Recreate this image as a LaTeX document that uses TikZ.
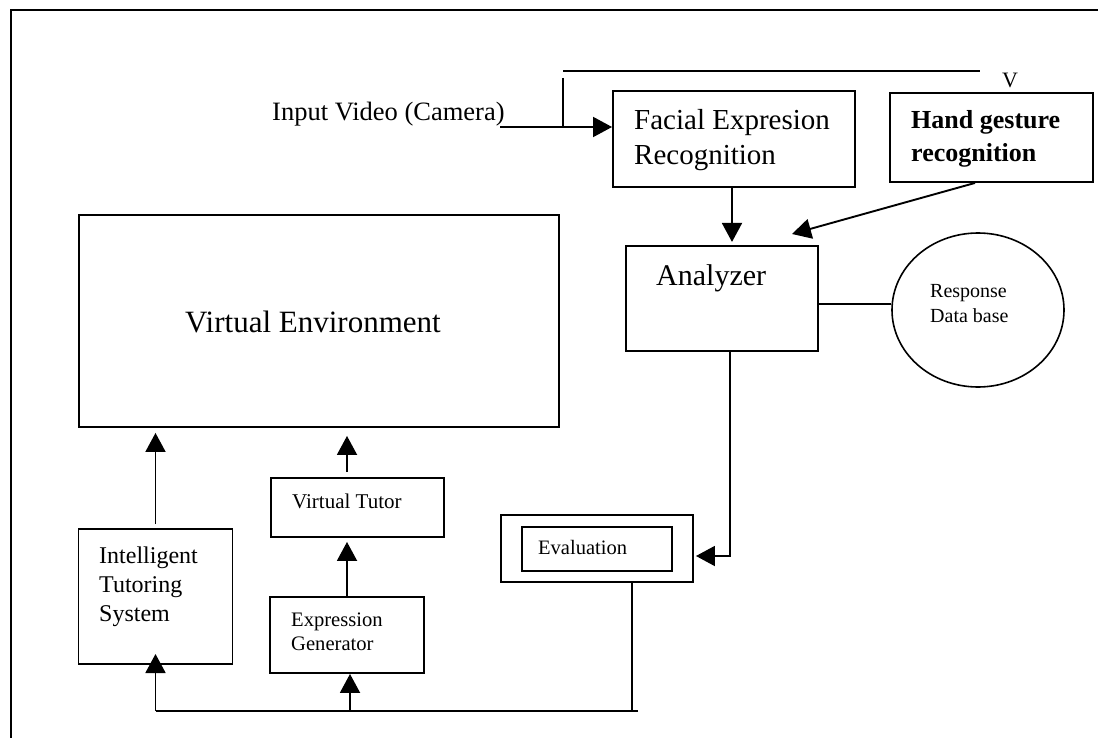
\documentclass[tikz,border=0pt]{standalone}
\usepackage{fontspec}
\setmainfont{Liberation Serif}
\usetikzlibrary{arrows.meta,calc,shapes.geometric}
\tikzset{
  box/.style={draw, line width=1.9pt, rectangle, inner sep=0pt},
  thinbox/.style={draw, line width=1.2pt, rectangle, inner sep=0pt},
  conn/.style={line width=1.9pt},
  arr/.style={line width=1.9pt, -{Triangle[length=19pt,width=20pt]}},
  txt/.style={inner sep=0pt, anchor=base west},
}
\newcommand{\fs}[1]{\fontsize{#1}{#1}\selectfont}
\begin{document}
\begin{tikzpicture}[x=1pt,y=-1pt]
\useasboundingbox (0,0) rectangle (1098,738);
% outer frame
\draw[line width=2pt] (10.5,740) -- (10.5,10.5) -- (1100,10.5);

% boxes
\node[box, minimum width=242, minimum height=96] (fac) at (734,139) {};
\node[box, minimum width=203, minimum height=89] (hand) at (991.5,137.5) {};
\node[box, minimum width=192, minimum height=105] (ana) at (722,298.5) {};
\node[draw, ellipse, line width=1.6pt, minimum width=172, minimum height=154, inner sep=0pt] (resp) at (978,310) {};
\node[box, minimum width=480, minimum height=212] (ve) at (318.8,321) {};
\node[box, minimum width=173, minimum height=59] (vt) at (357.5,507.5) {};
\node[box, minimum width=154, minimum height=135] (its) at (155.5,596.5) {};
\node[box, minimum width=154, minimum height=76] (eg) at (347,635) {};
\node[box, minimum width=192, minimum height=67] (evo) at (597,548.5) {};
\node[thinbox, minimum width=150, minimum height=44] (evi) at (597,549) {};

% texts
\node[txt] (tin) at (272,121) {\fs{26.5}Input Video (Camera)};
\node[inner sep=0pt, anchor=base] (tv) at (1010,88) {\fs{22}V};
\node[txt] (tfac1) at (634,130) {\fs{29}Facial Expresion};
\node[txt] (tfac2) at (634,165) {\fs{29}Recognition};
\node[txt] (thand1) at (911,129) {\fs{26}\bfseries Hand gesture};
\node[txt] (thand2) at (911,162) {\fs{26}\bfseries recognition};
\node[txt] (tana) at (656,286) {\fs{30}Analyzer};
\node[txt] (tresp1) at (930,298) {\fs{20}Response};
\node[txt] (tresp2) at (930,322) {\fs{20}Data base};
\node[inner sep=0pt, anchor=base] (tve) at (313,332) {\fs{31}Virtual Environment};
\node[txt] (tvt) at (292,508) {\fs{21}Virtual Tutor};
\node[txt] (tits1) at (99,563) {\fs{24}Intelligent};
\node[txt] (tits2) at (99,592) {\fs{24}Tutoring};
\node[txt] (tits3) at (99,621) {\fs{24}System};
\node[txt] (teg1) at (291,626) {\fs{20.6}Expression};
\node[txt] (teg2) at (291,650) {\fs{20.6}Generator};
\node[txt] (tev) at (538,554) {\fs{20.5}Evaluation};

% input and feedback lines
\coordinate (cin) at (500,127);
\draw[arr] (cin) -- (cin -| fac.west);
\coordinate (fbl) at (563,70.7);
\coordinate (fbr) at (980,70.7);
\draw[conn] (fbl) -- (fbr);
\coordinate (fbt) at (563,78);
\draw[conn] (fbt) -- (fbt |- cin);

% to analyzer
\draw[arr] ($(fac.south)+(-2,0)$) -- ++(0,54);
\draw[arr] ($(hand.south)+(-16.5,0)$) -- (792,234);

% analyzer - response
\coordinate (a1) at ($(ana.east)+(0,5.5)$);
\draw[line width=2.8pt] (a1) -- (a1 -| resp.west);

% analyzer -> evaluation
\draw[arr] ($(ana.south)+(8,0)$) |- ($(evo.east)+(2,7.5)$);

% evaluation -> bottom bus
\coordinate (b1) at (638,711);
\coordinate (e1) at ($(evo.south)+(35,0)$);
\coordinate (g1) at ($(eg.south)+(3,0)$);
\draw[conn] (e1) -- (e1 |- b1);
\draw[conn] (b1) -- (b1 -| its.south);
\draw[arr] (its.south |- b1) -- ++(0,-57);
\draw[arr] (g1 |- b1) -- (g1);

% upward arrows to VE / VT
\draw[arr] ($(its.north)+(0,-4)$) -- ($(ve.south -| its.north)+(0,5)$);
\draw[arr] (eg.north) -- ($(vt.south -| eg.north)+(0,4)$);
\draw[arr] ($(vt.north -| eg.north)+(0,-5)$) -- ($(ve.south -| eg.north)+(0,8)$);
\end{tikzpicture}
\end{document}
